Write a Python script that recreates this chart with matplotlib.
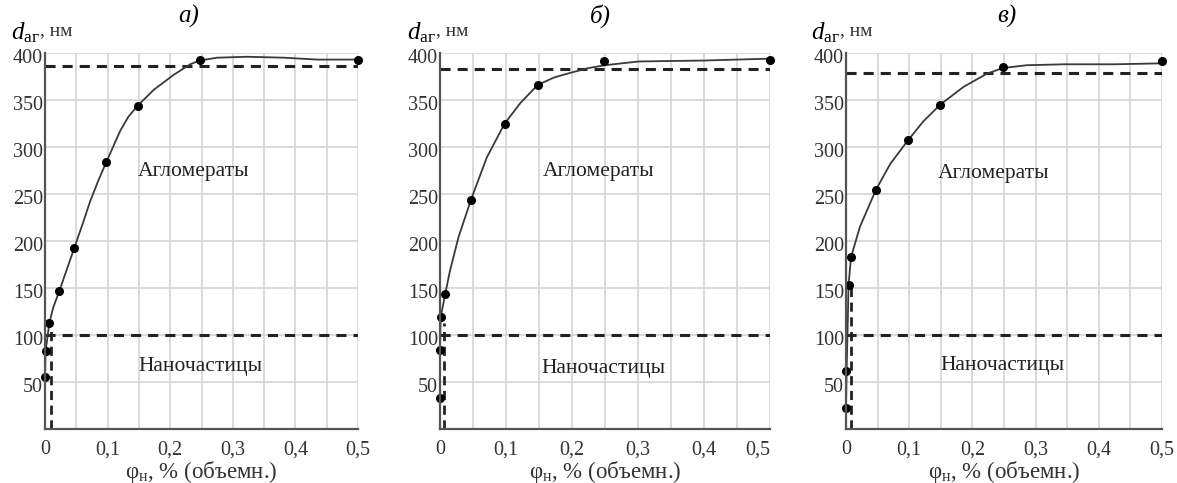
import numpy as np
import matplotlib
matplotlib.use('Agg')
from matplotlib import pyplot as plt
from matplotlib import transforms

plt.rcParams['font.family'] = ['Liberation Serif', 'DejaVu Serif']
plt.rcParams['mathtext.fontset'] = 'custom'
plt.rcParams['mathtext.rm'] = 'Liberation Serif'
plt.rcParams['mathtext.it'] = 'Liberation Serif:italic'

#panel titles
titles = ['а)', 'б)', 'в)']

pts_x = [[0.0, 0.001, 0.007, 0.023, 0.047, 0.098, 0.148, 0.247, 0.5],
         [0.0, 0.0, 0.001, 0.008, 0.047, 0.098, 0.148, 0.248, 0.5],
         [0.0, 0.0, 0.004, 0.008, 0.047, 0.098, 0.149, 0.248, 0.5]]
pts_y = [[55, 83, 113, 147, 193, 284, 344, 393, 393],
         [33, 84, 119, 144, 244, 325, 366, 392, 393],
         [22, 62, 153, 183, 254, 307, 345, 385, 391]]

#smooth curves
crv_x = [[0.0, 0.001, 0.007, 0.013, 0.023, 0.047, 0.06, 0.072, 0.085, 0.098, 0.11, 0.12, 0.133, 0.148, 0.174, 0.206, 0.232, 0.247, 0.275, 0.323, 0.382, 0.435, 0.5],
         [0.0, 0.0, 0.001, 0.008, 0.015, 0.028, 0.047, 0.071, 0.098, 0.122, 0.148, 0.173, 0.198, 0.225, 0.25, 0.301, 0.4, 0.5],
         [0.0, 0.001, 0.003, 0.004, 0.008, 0.022, 0.047, 0.07, 0.098, 0.122, 0.149, 0.186, 0.223, 0.248, 0.286, 0.346, 0.425, 0.5]]
crv_y = [[55, 83, 113, 129, 147, 193, 218, 242, 264, 284, 302, 317, 332, 344, 361, 377, 388, 392, 395, 396, 395, 393, 393],
         [33, 84, 119, 144, 168, 204, 244, 289, 325, 347, 366, 374, 379, 384, 387, 391, 392, 394],
         [22, 62, 120, 153, 183, 215, 254, 282, 307, 327, 345, 364, 378, 384, 387, 388, 388, 389]]

#dashed limits
upper_lvl = [386, 383, 379]
lower_lvl = [100, 100, 100]
vert_x = [0.01, 0.006, 0.008]
vert_top = [109, 113, 151]

#region labels
aggl_pos = [(0.237, 274), (0.24, 274), (0.233, 272)]
nano_pos = [(0.248, 67), (0.248, 64), (0.247, 68)]

x_ticks = [0, 0.05, 0.1, 0.15, 0.2, 0.25, 0.3, 0.35, 0.4, 0.45, 0.5]
x_labels = ['0', '', '0,1', '', '0,2', '', '0,3', '', '0,4', '', '0,5']
y_ticks = [0, 50, 100, 150, 200, 250, 300, 350, 400]
y_labels = ['', '50', '100', '150', '200', '250', '300', '350', '400']

W, H = 1177, 483
fig = plt.figure(figsize=(W/100, H/100), dpi=100)

#axes boxes in pixels (left, right)
boxes = [(45, 358), (440, 770), (846, 1162)]
top_px, bot_px = 53, 429

#y tick labels sit a little below their gridlines in the reference
shift_down = transforms.ScaledTranslation(0, -3/100, fig.dpi_scale_trans)

for k in range(3):
 l, r = boxes[k]
 ax = fig.add_axes([l/W, (H-bot_px)/H, (r-l)/W, (bot_px-top_px)/H])
 ax.set_xlim(0, 0.5)
 ax.set_ylim(0, 400)
 ax.set_xticks(x_ticks)
 ax.set_xticklabels(x_labels)
 ax.set_yticks(y_ticks)
 ax.set_yticklabels(y_labels)
 ax.tick_params(length=0, labelsize=14.5, colors='#333333')
 ax.tick_params(axis='x', pad=8)
 ax.tick_params(axis='y', pad=1.5)
 for lab in ax.get_yticklabels():
  lab.set_transform(lab.get_transform() + shift_down)
 ax.grid(True, color='#d4d4d4', lw=1.2)
 ax.set_axisbelow(True)
 for s in ['top', 'right']:
  ax.spines[s].set_visible(False)
 for s in ['left', 'bottom']:
  ax.spines[s].set_color('#555555')
  ax.spines[s].set_linewidth(1.6)
 if k == 1:
  ax.get_xticklabels()[-1].set_ha('right')

 ax.axhline(upper_lvl[k], color='#222222', lw=2.2, dashes=(3.3, 2.3))
 ax.axhline(lower_lvl[k], color='#222222', lw=2.2, dashes=(3.3, 2.3))
 ax.plot([vert_x[k], vert_x[k]], [0, vert_top[k]], color='#222222', lw=2.0, dashes=(3.3, 2.0))

 ax.plot(crv_x[k], crv_y[k], color='#3a3a3a', lw=1.3, clip_on=False)
 ax.plot(pts_x[k], pts_y[k], 'o', color='black', ms=5.5, clip_on=False)

 ax.text(aggl_pos[k][0], aggl_pos[k][1], 'Агломераты', fontsize=15.5, ha='center', va='center', color='#222222')
 ax.text(nano_pos[k][0], nano_pos[k][1], 'Наночастицы', fontsize=15.5, ha='center', va='center', color='#222222')

 ax.set_xlabel('φ$_{\\mathrm{н}}$, % (объемн.)', fontsize=16.5, color='#333333', labelpad=0)
 ax.text([0.46, 0.485, 0.51][k], 1.0 + 37/376, titles[k], transform=ax.transAxes, fontsize=18, style='italic', ha='center', va='center')
 d = ax.text(-0.11 if k != 1 else -0.10, 1.0 + 14/376, '$d_{\\mathrm{аг}}$', transform=ax.transAxes, fontsize=18, ha='left', va='baseline')
 ax.annotate(', нм', xy=(1.0, 0.22), xycoords=d, fontsize=14, ha='left', va='bottom', color='#333333')

fig.savefig('out.png', dpi=100)
